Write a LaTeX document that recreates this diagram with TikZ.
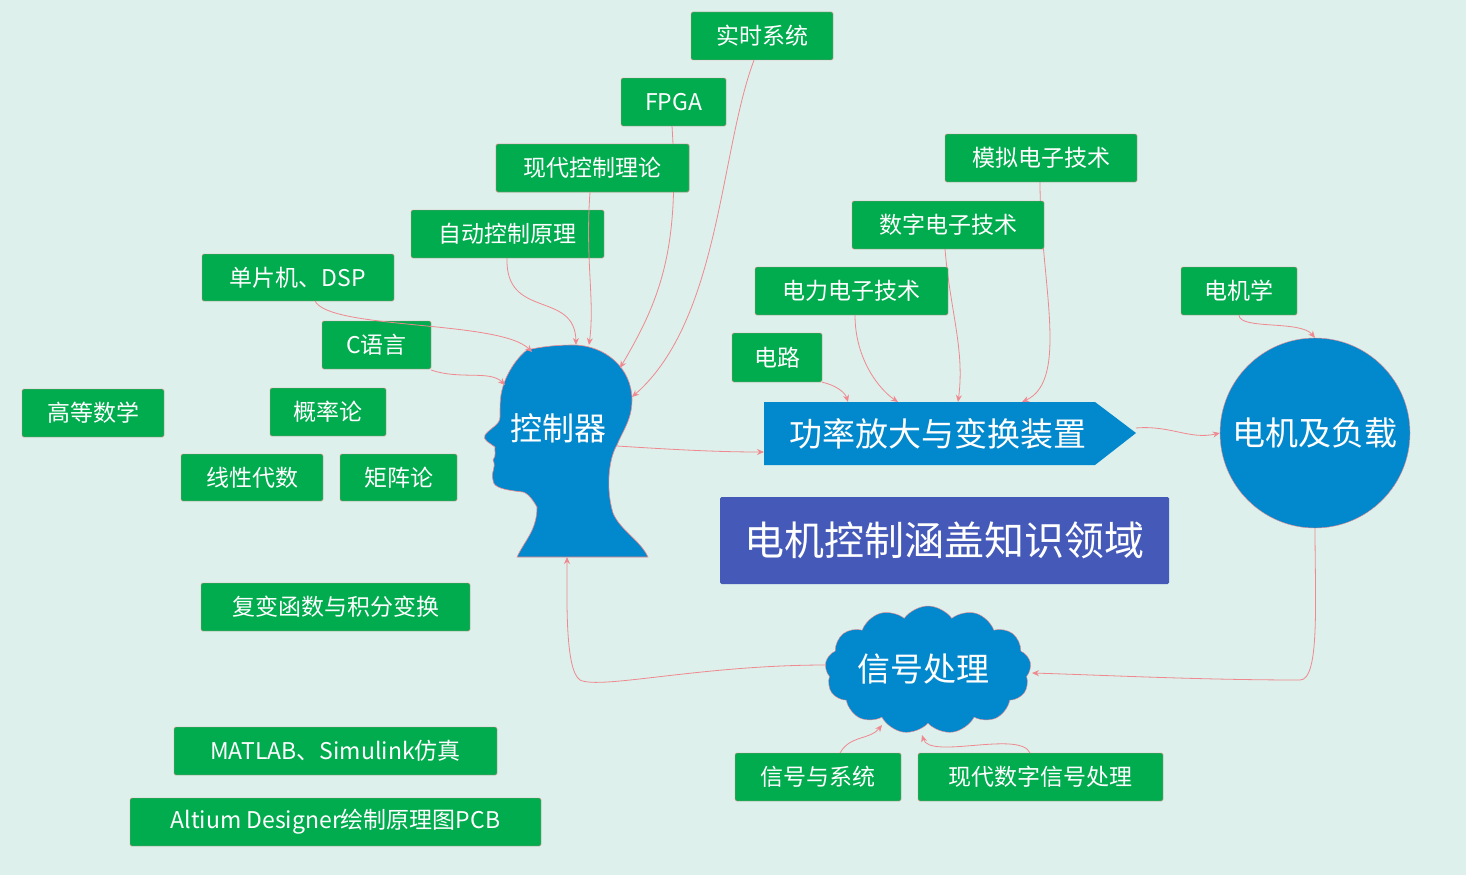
\documentclass[tikz,border=0pt]{standalone}
\usepackage{fontspec}
\setmainfont{Noto Sans CJK SC}
\usetikzlibrary{shapes.symbols,arrows.meta}
\definecolor{bg}{HTML}{DDF0EB}
\definecolor{gbox}{HTML}{00AC4E}
\definecolor{lnk}{HTML}{F08890}
\definecolor{hblue}{HTML}{0288CC}
\definecolor{tblue}{HTML}{4459B8}
\tikzset{
  gb/.style={draw=lnk,fill=gbox,text=white,rounded corners=1.5pt,inner sep=0pt,font=\fontsize{23}{23}\selectfont},
  lk/.style={draw=lnk,line width=0.8pt,-{Stealth[length=7pt,width=6pt]}},
}
\newcommand{\gbx}[6]{\node[gb,minimum width=#4-#2,minimum height=#5-#3] (#1) at ({(#2+#4)/2},{(#3+#5)/2}) {#6};}
\begin{document}
\begin{tikzpicture}[x=1pt,y=-1pt]
\fill[bg] (0,0) rectangle (1466,875);
\useasboundingbox (0,0) rectangle (1466,875);
% head
\path[fill=hblue,draw=lnk,line width=0.6pt] (573,345) .. controls (605,345) and (632,368) .. (632,400)
  .. controls (632,420) and (622,432) .. (617,445) .. controls (608,460) and (606,490) .. (613,513)
  .. controls (620,530) and (640,540) .. (648,557) -- (517,557) .. controls (525,540) and (537,530) .. (537,507)
  .. controls (530,495) and (526,493) .. (523,492) .. controls (505,490) and (493,488) .. (493,480)
  .. controls (490,472) and (497,468) .. (493,460) .. controls (497,455) and (494,450) .. (495,447)
  .. controls (490,443) and (482,440) .. (485,435) .. controls (490,428) and (500,425) .. (500,417)
  .. controls (500,405) and (500,398) .. (502,390) .. controls (507,370) and (520,355) .. (527,350)
  .. controls (540,347) and (555,345) .. (573,345) -- cycle;
\node[text=white,font=\fontsize{32}{32}\selectfont] (head) at (558,428) {控制器};
\coordinate (h1) at (532,352); \coordinate (h2) at (505,385); \coordinate (h3) at (576,345);
\coordinate (h4) at (589,345); \coordinate (h5) at (620,368); \coordinate (h6) at (632,397);
\coordinate (h7) at (617,446); \coordinate (h8) at (567,557);
% green boxes
\gbx{rs}{691}{12}{833}{60}{实时系统}
\gbx{fpga}{621}{78}{726}{126}{FPGA}
\gbx{xd}{496}{144}{689}{192}{现代控制理论}
\gbx{zd}{411}{210}{604}{258}{自动控制原理}
\gbx{dp}{202}{254}{394}{301}{单片机、DSP}
\gbx{c}{322}{321}{431}{369}{C语言}
\gbx{gd}{22}{389}{164}{437}{高等数学}
\gbx{gl}{270}{388}{386}{436}{概率论}
\gbx{xx}{181}{454}{323}{501}{线性代数}
\gbx{jz}{340}{454}{457}{501}{矩阵论}
\gbx{fb}{201}{583}{470}{631}{复变函数与积分变换}
\gbx{ml}{174}{727}{497}{775}{MATLAB、Simulink仿真}
\gbx{ad}{130}{798}{541}{846}{Altium Designer绘制原理图PCB}
\gbx{dl}{732}{333}{822}{382}{电路}
\gbx{dj}{1181}{267}{1297}{315}{电机学}
\gbx{xs}{735}{753}{901}{801}{信号与系统}
\gbx{xds}{918}{753}{1163}{801}{现代数字信号处理}
% power arrow
\path[fill=hblue] (764,402) -- (1095,402) -- (1136,433) -- (1095,465) -- (764,465) -- cycle;
\node[text=white,font=\fontsize{33}{33}\selectfont] (pw) at (938,434) {功率放大与变换装置};
\coordinate (p1) at (848,402); \coordinate (p2) at (898,402); \coordinate (p3) at (958,402);
\coordinate (p4) at (1022,402); \coordinate (p5) at (764,452); \coordinate (p6) at (1136,428);
% links hidden behind boxes first
\draw[lk] (1040,182) .. controls (1040,280) and (1070,380) .. (p4);
\draw[lk] (945,249) .. controls (950,310) and (965,350) .. (p3);
\draw[lk] (672,126) .. controls (680,250) and (660,300) .. (h5);
\gbx{mn}{945}{134}{1137}{182}{模拟电子技术}
\gbx{sz}{852}{201}{1044}{249}{数字电子技术}
\gbx{dldz}{755}{267}{948}{315}{电力电子技术}
\gbx{xd2}{496}{144}{689}{192}{现代控制理论}
% motor
\node[circle,fill=hblue,draw=lnk,minimum size=190pt,inner sep=0pt,text=white,font=\fontsize{33}{33}\selectfont] (mot) at (1315,433) {电机及负载};
% title
\node[fill=tblue,text=white,minimum width=449pt,minimum height=87pt,rounded corners=1.5pt,font=\fontsize{40}{40}\selectfont] (tt) at (944.5,540.5) {电机控制涵盖知识领域};
% cloud
\node[cloud,cloud puffs=13,cloud puff arc=110,aspect=1.6,fill=hblue,draw=lnk,minimum width=206pt,minimum height=128pt,inner sep=0pt] (cl) at (928,670) {};
\node[text=white,font=\fontsize{33}{33}\selectfont] at (923,669) {信号处理};
% links
\draw[lk] (rs.south) ++(-8,0) .. controls (720,150) and (720,320) .. (h6);
\draw[lk] (590,192) .. controls (585,260) and (595,300) .. (h4);
\draw[lk] (507,258) .. controls (505,320) and (575,290) .. (h3);
\draw[lk] (315,301) .. controls (330,330) and (500,320) .. (h1);
\draw[lk] (431,370) .. controls (460,380) and (490,370) .. (h2);
\draw[lk] (h7) .. controls (680,450) and (720,452) .. (p5);
\draw[lk] (p6) .. controls (1170,425) and (1190,440) .. (mot.west);
\draw[lk] (dj.south) .. controls (1240,330) and (1300,320) .. (mot.north);
\draw[lk] (dl.south east) .. controls (835,385) and (845,392) .. (p1);
\draw[lk] (855,315) .. controls (855,360) and (880,390) .. (p2);
\draw[lk] (mot.south) .. controls (1315,600) and (1320,680) .. (1300,680) .. controls (1200,680) and (1100,675) .. (1032,673);
\draw[lk] (826,665) .. controls (700,665) and (600,690) .. (580,680) .. controls (565,670) and (567,600) .. (h8);
\draw[lk] (840,753) .. controls (850,735) and (870,740) .. (882,725);
\draw[lk] (1030,753) .. controls (1020,730) and (930,760) .. (922,735);
\end{tikzpicture}
\end{document}
